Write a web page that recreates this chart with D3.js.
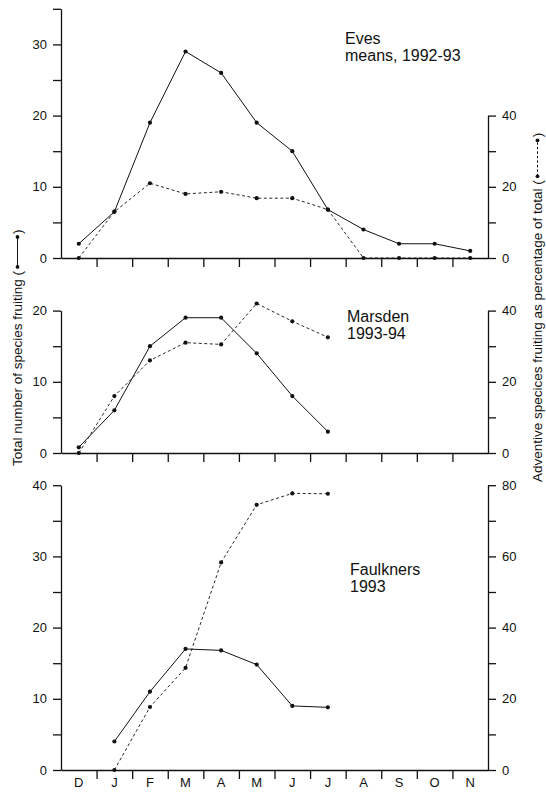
<!DOCTYPE html>
<html>
<head>
<meta charset="utf-8">
<script src="https://cdn.jsdelivr.net/npm/d3@7"></script>
<style>
  body { margin: 0; background: #fff; }
  svg { display: block; font-family: "Liberation Sans", Arial, Helvetica, sans-serif; }
</style>
</head>
<body>
<div id="chart"></div>
<script>
// month categories (Dec .. Nov)
const months = ["D", "J", "F", "M", "A", "M", "J", "J", "A", "S", "O", "N"];

// Eves means, 1992-93
const evesTotal = [2, 6.5, 19, 29, 26, 19, 15, 6.8, 4, 2, 2, 1];
const evesAdventivePct = [0, 13, 21, 18, 18.6, 16.8, 16.8, 13.6, 0, 0, 0, 0];

// Marsden 1993-94
const marsdenTotal = [0.8, 6, 15, 19, 19, 14, 8, 3, null, null, null, null];
const marsdenAdventivePct = [0, 16, 26, 31, 30.5, 42, 37, 32.5, null, null, null, null];

// Faulkners 1993
const faulknersTotal = [null, 4, 11, 17, 16.8, 14.8, 9, 8.8, null, null, null, null];
const faulknersAdventivePct = [null, 0, 17.7, 28.7, 58.3, 74.5, 77.7, 77.6, null, null, null, null];

// panel titles and axis tops
const panelTitles = [["Eves", "means, 1992-93"], ["Marsden", "1993-94"], ["Faulkners", "1993"]];
const leftMax = [35, 20, 40];
const rightMax = [40, 40, 80];

const leftTitle = "Total number of species fruiting (";
const rightTitle = "Adventive specices fruiting as percentage of total (";

// layout
const W = 546, H = 793;
const left = 61, right = 488;
const unitPx = 7.12;              // px per species on the left scale
const baselines = [258, 453, 770];
const titlePos = [[345, 44], [347, 322], [350, 575]];

const svg = d3.select("#chart").append("svg")
    .attr("width", W)
    .attr("height", H);

const x = d3.scaleBand().domain(d3.range(12)).range([left, right]);
const xSep = d3.scaleLinear().domain([0, 12]).range([left, right]);

const panels = [
    { total: evesTotal, pct: evesAdventivePct },
    { total: marsdenTotal, pct: marsdenAdventivePct },
    { total: faulknersTotal, pct: faulknersAdventivePct }
];

panels.forEach((p, i) => {
    const y0 = baselines[i];
    const yL = d3.scaleLinear().domain([0, leftMax[i]]).range([y0, y0 - leftMax[i] * unitPx]);
    const yR = d3.scaleLinear().domain([0, rightMax[i]]).range([y0, y0 - rightMax[i] / 2 * unitPx]);
    const g = svg.append("g");

    // x baseline with month separators
    g.append("g")
        .attr("transform", `translate(0,${y0})`)
        .call(d3.axisBottom(xSep).tickValues(d3.range(1, 12)).tickSize(9).tickSizeOuter(0).tickFormat(""));
    if (i === 2) {
        g.append("g")
            .attr("transform", `translate(0,${y0})`)
            .call(d3.axisBottom(x).tickSize(0).tickPadding(8).tickFormat(d => months[d]))
            .call(a => a.select(".domain").remove());
    }

    // left axis
    g.append("g")
        .attr("transform", `translate(${left},0)`)
        .call(d3.axisLeft(yL)
            .tickValues(d3.range(0, leftMax[i] + 1, 5))
            .tickFormat(d => d % 10 === 0 ? d : "")
            .tickSize(8).tickPadding(6).tickSizeOuter(0));

    // right axis
    g.append("g")
        .attr("transform", `translate(${right},0)`)
        .call(d3.axisRight(yR)
            .tickValues(d3.range(0, rightMax[i] + 1, 10))
            .tickFormat(d => d % 20 === 0 ? d : "")
            .tickSize(8).tickPadding(6).tickSizeOuter(0));

    g.selectAll(".tick text").attr("font-size", 13).attr("fill", "#111").attr("font-family", null);
    g.selectAll(".domain, .tick line").attr("stroke", "#111").attr("stroke-width", 1.3);

    const cx = d => x(d) + x.bandwidth() / 2;
    const idx = d3.range(12);

    // total species (solid)
    g.append("path")
        .attr("fill", "none")
        .attr("stroke", "#111")
        .attr("stroke-width", 1)
        .attr("d", d3.line().defined(d => p.total[d] != null).x(cx).y(d => yL(p.total[d]))(idx));
    g.selectAll(".dot-total")
        .data(idx.filter(d => p.total[d] != null))
        .enter().append("circle")
        .attr("cx", cx).attr("cy", d => yL(p.total[d]))
        .attr("r", 2.1).attr("fill", "#111");

    // adventive percentage (dashed)
    g.append("path")
        .attr("fill", "none")
        .attr("stroke", "#111")
        .attr("stroke-width", 0.9)
        .attr("stroke-dasharray", "3,2.5")
        .attr("d", d3.line().defined(d => p.pct[d] != null).x(cx).y(d => yR(p.pct[d]))(idx));
    g.selectAll(".dot-pct")
        .data(idx.filter(d => p.pct[d] != null))
        .enter().append("circle")
        .attr("cx", cx).attr("cy", d => yR(p.pct[d]))
        .attr("r", 2.1).attr("fill", "#111");

    // panel title
    const t = g.append("text")
        .attr("x", titlePos[i][0]).attr("y", titlePos[i][1])
        .attr("font-size", 16).attr("fill", "#111");
    panelTitles[i].forEach((line, k) => {
        t.append("tspan").attr("x", titlePos[i][0]).attr("dy", k === 0 ? 0 : 17).text(line);
    });
});

// rotated axis titles with line-style keys
function axisTitle(xPos, yPos, label, dashed) {
    const g = svg.append("g").attr("transform", `translate(${xPos},${yPos}) rotate(-90)`);
    const txt = g.append("text").attr("font-size", 13.5).attr("fill", "#111").text(label);
    const L = txt.node().getComputedTextLength();
    const x1 = L + 4, x2 = L + (dashed ? 40 : 34);
    g.append("line")
        .attr("x1", x1).attr("x2", x2).attr("y1", -4.5).attr("y2", -4.5)
        .attr("stroke", "#111").attr("stroke-width", 1)
        .attr("stroke-dasharray", dashed ? "2.5,2" : null);
    g.selectAll("circle").data([x1, x2]).enter().append("circle")
        .attr("cx", d => d).attr("cy", -4.5).attr("r", 1.9).attr("fill", "#111");
    g.append("text").attr("x", x2 + 3).attr("font-size", 13.5).attr("fill", "#111").text(")");
}

axisTitle(22, 466, leftTitle, false);
axisTitle(542, 482, rightTitle, true);
</script>
</body>
</html>
